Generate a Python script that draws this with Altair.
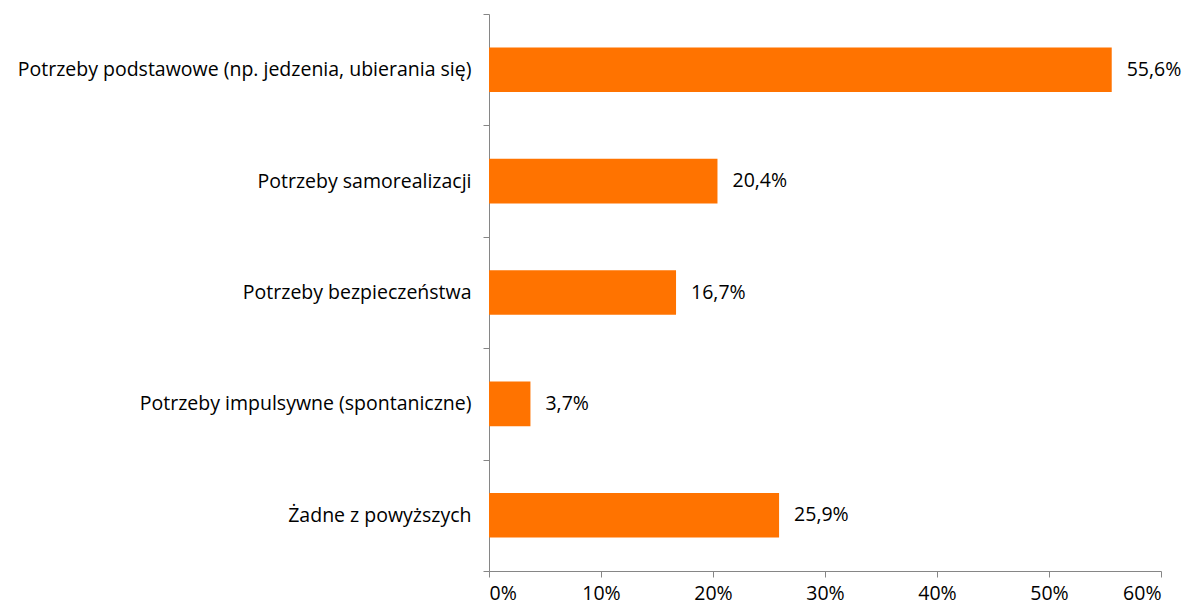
import altair as alt
import pandas as pd

categories = [
    "Potrzeby podstawowe (np. jedzenia, ubierania się)",
    "Potrzeby samorealizacji",
    "Potrzeby bezpieczeństwa",
    "Potrzeby impulsywne (spontaniczne)",
    "Żadne z powyższych",
]
values = [0.556, 0.204, 0.167, 0.037, 0.259]

df = pd.DataFrame({"cat": categories, "v": values})

FONT = "Open Sans"
FS = 19.5
AXIS_COLOR = "#868686"

y_enc = alt.Y(
    "cat:N",
    sort=categories,
    scale=alt.Scale(paddingInner=0, paddingOuter=0),
    axis=alt.Axis(
        title=None,
        tickBand="extent",
        tickSize=6,
        labelPadding=12,
        labelFontSize=FS,
        labelFont=FONT,
        labelColor="#000000",
        domainColor=AXIS_COLOR,
        tickColor=AXIS_COLOR,
        labelLimit=600,
        grid=False,
    ),
)
x_enc = alt.X(
    "v:Q",
    scale=alt.Scale(domain=[0, 0.6], nice=False),
    axis=alt.Axis(
        title=None,
        format=".0%",
        values=[0, 0.1, 0.2, 0.3, 0.4, 0.5, 0.6],
        tickSize=6,
        labelPadding=7,
        labelFontSize=FS,
        labelFont=FONT,
        labelColor="#000000",
        domainColor=AXIS_COLOR,
        tickColor=AXIS_COLOR,
        grid=False,
    ),
)

base = alt.Chart(df).encode(y=y_enc, x=x_enc)

bars = base.mark_bar(color="#ff7300", height={"band": 0.4})
labels = base.transform_calculate(
    lbl="replace(format(datum.v*100, '.1f'), '.', ',') + '%'"
).mark_text(align="left", dx=15, fontSize=FS, font=FONT, color="#000000").encode(
    text="lbl:N"
)

chart = (
    (bars + labels)
    .properties(
        width=672,
        height=557,
        autosize=alt.AutoSizeParams(type="none"),
        padding={"left": 489, "top": 14, "right": 25, "bottom": 39},
        background="white",
    )
    .configure_view(stroke=None)
)

chart.save("out.html", embed_options={"renderer": "svg", "actions": False})
